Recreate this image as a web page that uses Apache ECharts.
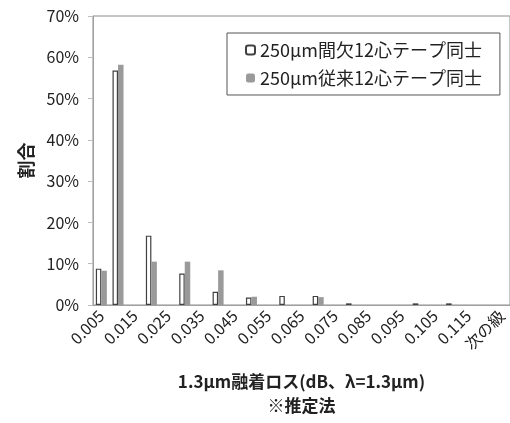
<!DOCTYPE html>
<html>
<head>
<meta charset="utf-8">
<script src="https://cdn.jsdelivr.net/npm/echarts@6/dist/echarts.min.js"></script>
<style>
html,body{margin:0;padding:0;background:#fff;}
#main{width:510px;height:423px;}
</style>
</head>
<body>
<div id="main"></div>
<script>
// Categories (histogram bins, upper edges)
const categories = ['0.005','0.01','0.015','0.02','0.025','0.03','0.035','0.04','0.045','0.05','0.055','0.06','0.065','0.07','0.075','0.08','0.085','0.09','0.095','0.1','0.105','0.11','0.115','0.12','次の級'];
// Series values (%)
const intermittent = [8.8, 56.8, 0, 16.8, 0, 7.6, 0, 3.2, 0, 1.8, 0, 2.2, 0, 2.2, 0, 0.4, 0, 0, 0, 0.4, 0, 0.4, 0, 0, 0];
const conventional = [8.3, 58.2, 0, 10.5, 0, 10.5, 0, 8.4, 0, 2.0, 0, 0, 0, 1.9, 0, 0, 0, 0, 0, 0, 0, 0, 0, 0, 0];
const seriesNames = ['250µm間欠12心テープ同士', '250µm従来12心テープ同士'];
const yTicks = [0, 10, 20, 30, 40, 50, 60, 70];
const xTitle = '1.3µm融着ロス(dB、λ=1.3µm)\n※推定法';
const yTitle = '割合';

const FONT = '"Noto Sans CJK JP", "Noto Sans", sans-serif';
const chart = echarts.init(document.getElementById('main'));
const clean = arr => arr.map(v => v === 0 ? '-' : v);

chart.setOption({
  animation: false,
  textStyle: { fontFamily: FONT },
  grid: {
    left: 93, right: -4, top: 16, bottom: 116,
    show: true, borderColor: '#8c8c8c', borderWidth: 1
  },
  legend: {
    orient: 'vertical',
    left: 227, top: 33,
    padding: [8, 18, 8, 18],
    itemGap: 10,
    itemWidth: 9, itemHeight: 9,
    borderColor: '#555', borderWidth: 1,
    textStyle: { fontFamily: FONT, fontSize: 18, color: '#222' },
    data: seriesNames
  },
  xAxis: {
    type: 'category',
    data: categories,
    boundaryGap: true,
    axisLine: { lineStyle: { color: '#a0a0a0', width: 1 } },
    axisTick: { interval: 0, length: 6, lineStyle: { color: '#a0a0a0' } },
    axisLabel: { interval: 1, rotate: 45, margin: 8, fontSize: 16, color: '#222', fontFamily: FONT },
    name: xTitle,
    nameLocation: 'middle',
    nameGap: 65,
    nameTextStyle: { fontSize: 17, fontWeight: 'bold', color: '#222', lineHeight: 24, fontFamily: FONT }
  },
  yAxis: {
    type: 'value',
    min: yTicks[0], max: yTicks[yTicks.length - 1], interval: 10,
    axisLine: { show: true, lineStyle: { color: '#a0a0a0' } },
    axisTick: { show: true, length: 5, lineStyle: { color: '#bdbdbd' } },
    splitLine: { show: false },
    axisLabel: { formatter: '{value}%', fontSize: 16, color: '#222', margin: 14, fontFamily: FONT },
    name: yTitle,
    nameLocation: 'middle',
    nameRotate: 90,
    nameGap: 56,
    nameTextStyle: { fontSize: 18, fontWeight: 'bold', color: '#222', fontFamily: FONT }
  },
  series: [
    {
      name: seriesNames[0], type: 'bar', data: clean(intermittent),
      barGap: '0%', barCategoryGap: '34%',
      itemStyle: { color: '#ffffff', borderColor: '#404040', borderWidth: 1.2 }
    },
    {
      name: seriesNames[1], type: 'bar', data: clean(conventional),
      barGap: '0%', barCategoryGap: '34%',
      itemStyle: { color: '#9a9a9a' }
    }
  ]
});
</script>
</body>
</html>
